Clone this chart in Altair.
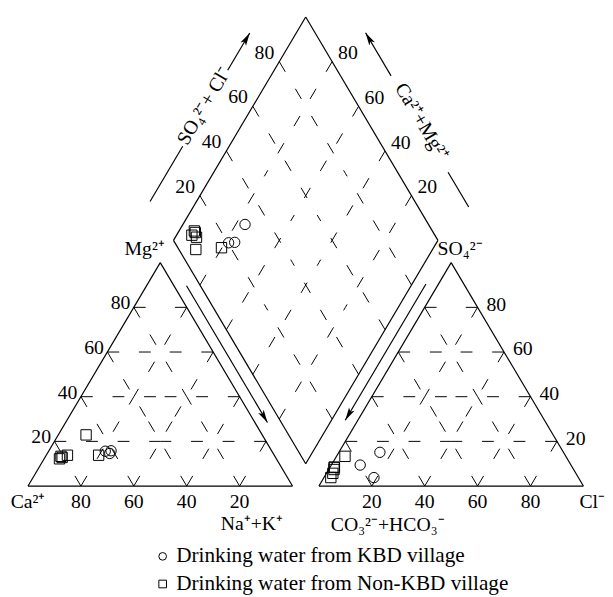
import math
import altair as alt
import pandas as pd

# ---------------- data (percent of meq/L) ----------------
kbd_mg = [15.6, 14.6, 15.8]
kbd_nak = [21.4, 23.6, 23.5]
kbd_so4 = [9.4, 3.8, 15.1]
kbd_cl = [10.9, 18.9, 15.5]

non_mg = [22.9, 13.8, 13.3, 13.8, 12.2, 12.8]
non_nak = [10.5, 19.8, 5.8, 8.0, 5.8, 6.5]
non_so4 = [3.8, 13.3, 8.3, 7.4, 5.7, 8.5]
non_cl = [2.6, 3.2, 1.7, 2.0, 2.4, 1.5]

group_labels = ["Drinking water from KBD village", "Drinking water from Non-KBD village"]
grid_levels = [20, 40, 60, 80]

cation_names = ["Ca²⁺", "Mg²⁺", "Na⁺+K⁺"]
anion_names = ["CO₃²⁻+HCO₃⁻", "SO₄²⁻", "Cl⁻"]
diamond_names = ["SO₄²⁻+ Cl⁻", "Ca²⁺+Mg²⁺"]

# ---------------- layout ----------------
FONT = "Liberation Serif"
FS = 20
W, H = 596, 580
X0, Y0 = 28.3, 488.5      # page position of the origin of the diagram
KX, KY = 2.68, 2.614      # pixels per unit
S3 = math.sqrt(3) / 2
GAP = 10
OFF_R = 100 + GAP

x_dom = [(8 - X0) / KX, (8 + W - X0) / KX]
y_dom = [(Y0 - 8 - H) / KY, (Y0 - 8) / KY]
xs = alt.Scale(domain=x_dom, nice=False, zero=False)
ys = alt.Scale(domain=y_dom, nice=False, zero=False)


def to_px(p):
    return (X0 + p[0] * KX, Y0 - p[1] * KY)


def from_px(q):
    return ((q[0] - X0) / KX, (Y0 - q[1]) / KY)


def shift(p, dx, dy):
    q = to_px(p)
    return from_px((q[0] + dx, q[1] + dy))


def seg(p, q):
    return dict(x=p[0], y=p[1], x2=q[0], y2=q[1])


def halves(p, q):
    m = ((p[0] + q[0]) / 2, (p[1] + q[1]) / 2)
    return [seg(p, m), seg(q, m)]


# geometry
AL = (50, 100 * S3)
AR = (OFF_R + 50, 100 * S3)
B = (105, GAP * S3)
LD = (55, B[1] + 100 * S3)
T = (105, B[1] + 200 * S3)
RD = (155, B[1] + 100 * S3)
u1 = (-0.5, S3)
u2 = (0.5, S3)

outline = []
for x0 in (0, OFF_R):
    c1, c2, ap = (x0, 0), (x0 + 100, 0), (x0 + 50, 100 * S3)
    outline += [seg(c1, c2), seg(c2, ap), seg(ap, c1)]
outline += [seg(B, LD), seg(LD, T), seg(T, RD), seg(RD, B)]

grid = []
for x0 in (0, OFF_R):
    for v in grid_levels:
        grid += halves((x0 + 0.5 * v, S3 * v), (x0 + 100 - 0.5 * v, S3 * v))
        grid += halves((x0 + v, 0), (x0 + v + 0.5 * (100 - v), S3 * (100 - v)))
        grid += halves((x0 + 100 - v, 0), (x0 + 0.5 * (100 - v), S3 * (100 - v)))
for v in grid_levels:
    p = (B[0] + v * u1[0], B[1] + v * u1[1])
    q = (p[0] + 100 * u2[0], p[1] + 100 * u2[1])
    grid += halves(p, q)
    p = (B[0] + v * u2[0], B[1] + v * u2[1])
    q = (p[0] + 100 * u1[0], p[1] + 100 * u1[1])
    grid += halves(p, q)


def along(P, Q, t, off, sign):
    Pp, Qp = to_px(P), to_px(Q)
    dx, dy = Qp[0] - Pp[0], Qp[1] - Pp[1]
    L = math.hypot(dx, dy)
    ux, uy = dx / L, dy / L
    nx, ny = sign * uy, -sign * ux
    return from_px((Pp[0] + t * dx + off * nx, Pp[1] + t * dy + off * ny)), (ux, uy), L


arrow_specs = [
    (LD, T, 1, 40.5, [(0.083, 0.33), (0.67, 0.837)]),
    (RD, T, -1, 44.0, [(0.05, 0.206), (0.637, 0.83)]),
    (AL, (100, 0), 1, 11.0, [(0.128, 0.74)]),
    (AR, (OFF_R, 0), -1, 11.0, [(0.12, 0.73)]),
]
arrow_lines, heads = [], []
HEAD = 13.0
for P, Q, sgn, off, segs in arrow_specs:
    for t0, t1 in segs:
        p0, _, _ = along(P, Q, t0, off, sgn)
        p1, _, _ = along(P, Q, t1, off, sgn)
        arrow_lines.append(seg(p0, p1))
    te = segs[-1][1]
    _, (ux, uy), L = along(P, Q, te, off, sgn)
    c, _, _ = along(P, Q, te - HEAD / 2 / L, off, sgn)
    heads.append(dict(x=c[0], y=c[1], ang=math.degrees(math.atan2(ux, -uy)) % 360))

# titles along the diamond
titles = []
p, (ux, uy), _ = along(LD, T, 0.506, 42.6, 1)
titles.append(dict(x=p[0], y=p[1], t=diamond_names[0], ang=math.degrees(math.atan2(uy, ux)) % 360))
p, (ux, uy), _ = along(RD, T, 0.425, 47.0, -1)
titles.append(dict(x=p[0], y=p[1], t=diamond_names[1], ang=math.degrees(math.atan2(-uy, -ux)) % 360))

# tick labels
lab_center, lab_right, lab_left = [], [], []
for v in grid_levels:
    p = shift((v, 0), 0, 16.5)
    lab_center.append(dict(x=p[0], y=p[1], t=str(100 - v)))
    p = shift((OFF_R + v, 0), 0, 16.5)
    lab_center.append(dict(x=p[0], y=p[1], t=str(v)))
    p = shift((0.5 * v, S3 * v), -3.5, -4)
    lab_right.append(dict(x=p[0], y=p[1], t=str(v)))
    p = shift((OFF_R + 100 - 0.5 * v, S3 * v), 9, -2.5)
    lab_left.append(dict(x=p[0], y=p[1], t=str(v)))
    d = (LD[0] + v / 100 * (T[0] - LD[0]), LD[1] + v / 100 * (T[1] - LD[1]))
    p = shift(d, -5, -9)
    lab_right.append(dict(x=p[0], y=p[1], t=str(v)))
    d = (RD[0] + v / 100 * (T[0] - RD[0]), RD[1] + v / 100 * (T[1] - RD[1]))
    p = shift(d, 6, -8.5)
    lab_left.append(dict(x=p[0], y=p[1], t=str(v)))

# corner labels
p = shift((0, 0), 0, 16.5); lab_center.append(dict(x=p[0], y=p[1], t=cation_names[0]))
p = shift(AL, 4.7, -13.5); lab_right.append(dict(x=p[0], y=p[1], t=cation_names[1]))
p = shift((100, 0), -9.6, 38.5); lab_right.append(dict(x=p[0], y=p[1], t=cation_names[2]))
p = shift((OFF_R, 0), 12, 40); lab_left.append(dict(x=p[0], y=p[1], t=anion_names[0]))
p = shift(AR, -13.8, -13.5); lab_left.append(dict(x=p[0], y=p[1], t=anion_names[1]))
p = shift((OFF_R + 100, 0), -4, 16.5); lab_left.append(dict(x=p[0], y=p[1], t=anion_names[2]))

# sample points
rows = []
for grp, mgs, naks, so4s, cls in [
    (group_labels[0], kbd_mg, kbd_nak, kbd_so4, kbd_cl),
    (group_labels[1], non_mg, non_nak, non_so4, non_cl),
]:
    for mg, nak, so4, cl in zip(mgs, naks, so4s, cls):
        rows.append(dict(x=nak + 0.5 * mg, y=S3 * mg, group=grp))
        rows.append(dict(x=OFF_R + cl + 0.5 * so4, y=S3 * so4, group=grp))
        a = 100 - nak
        b = so4 + cl
        rows.append(dict(x=B[0] + 0.5 * (b - a), y=B[1] + S3 * (a + b), group=grp))

X = alt.X("x:Q", scale=xs, axis=None)
Y = alt.Y("y:Q", scale=ys, axis=None)

outline_l = alt.Chart(pd.DataFrame(outline)).mark_rule(color="black", strokeWidth=1.2).encode(
    x=X, y=Y, x2="x2:Q", y2="y2:Q")
grid_l = alt.Chart(pd.DataFrame(grid)).mark_rule(color="black", strokeWidth=1, strokeDash=[12, 20]).encode(
    x=X, y=Y, x2="x2:Q", y2="y2:Q")
arrow_l = alt.Chart(pd.DataFrame(arrow_lines)).mark_rule(color="black", strokeWidth=1.2).encode(
    x=X, y=Y, x2="x2:Q", y2="y2:Q")
head_l = alt.Chart(pd.DataFrame(heads)).mark_point(
    shape="M0,-1L0.5,1L0,0.55L-0.5,1Z", filled=True, color="black", size=170, opacity=1, strokeWidth=0
).encode(x=X, y=Y, angle=alt.Angle("ang:Q", scale=None))


def text_layer(data, align):
    return alt.Chart(pd.DataFrame(data)).mark_text(
        align=align, baseline="middle", font=FONT, fontSize=FS, color="black"
    ).encode(x=X, y=Y, text="t:N")


title_l = alt.Chart(pd.DataFrame(titles)).mark_text(
    align="center", baseline="middle", font=FONT, fontSize=FS, color="black"
).encode(x=X, y=Y, text="t:N", angle=alt.Angle("ang:Q", scale=None))

pts_l = alt.Chart(pd.DataFrame(rows)).mark_point(
    filled=False, color="black", size=110, strokeWidth=1, opacity=1
).encode(
    x=X, y=Y,
    shape=alt.Shape(
        "group:N",
        scale=alt.Scale(domain=group_labels, range=["circle", "square"]),
        legend=alt.Legend(
            title=None, orient="none", legendX=146, legendY=541,
            labelFont=FONT, labelFontSize=21.5, labelColor="black", labelLimit=0,
            symbolSize=60, symbolStrokeColor="black", symbolStrokeWidth=1,
            symbolFillColor="transparent", rowPadding=5, labelOffset=3, padding=0,
        ),
    ),
)

chart = alt.layer(
    grid_l, outline_l, arrow_l, head_l,
    text_layer(lab_center, "center"), text_layer(lab_right, "right"), text_layer(lab_left, "left"),
    title_l, pts_l,
).properties(width=W, height=H, padding=0).configure_view(stroke=None)

chart.save("out.html", embed_options={"renderer": "svg", "actions": False})
